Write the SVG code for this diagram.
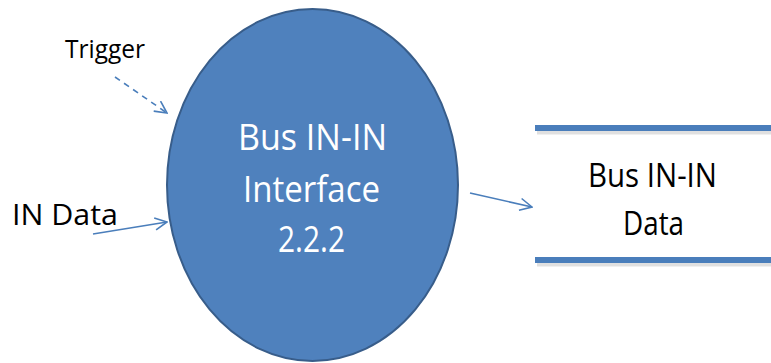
<svg xmlns="http://www.w3.org/2000/svg" width="771" height="363" viewBox="0 0 771 363">
<style>
text{font-family:"Open Sans","Noto Sans","Liberation Sans",sans-serif;}
.dark{fill:#000;}
.light{fill:#fff;}
.conn{stroke:#4A7EBB;stroke-width:1.6;fill:none;}
.bar{stroke:#4A7EBB;stroke-width:6;}
.shadow{stroke:#000;stroke-opacity:0.12;stroke-width:5;}
</style>
<defs>
<marker id="arr" viewBox="0 0 14 14" refX="13" refY="7" markerWidth="14" markerHeight="14" markerUnits="userSpaceOnUse" orient="auto">
<path d="M1,1 L13,7 L1,13" fill="none" stroke="#4A7EBB" stroke-width="1.6"/>
</marker>
</defs>
<g id="connectors">
<line class="conn" x1="115" y1="77" x2="167" y2="113" stroke-dasharray="6,5" marker-end="url(#arr)"/>
<line class="conn" x1="93" y1="234" x2="167" y2="222" marker-end="url(#arr)"/>
<line class="conn" x1="470" y1="193" x2="532" y2="207" marker-end="url(#arr)"/>
</g>
<g id="trigger">
<text class="dark" x="65" y="58" font-size="25" textLength="80" lengthAdjust="spacingAndGlyphs">Trigger</text>
</g>
<g id="in-data">
<text class="dark" x="12" y="225" font-size="30" textLength="106" lengthAdjust="spacingAndGlyphs">IN Data</text>
</g>
<g id="process">
<ellipse cx="312.5" cy="185" rx="145.5" ry="176" fill="#4F81BD" stroke="#385D8A" stroke-width="2"/>
<text class="light" x="238" y="150" font-size="36" textLength="149" lengthAdjust="spacingAndGlyphs">Bus IN-IN</text>
<text class="light" x="243" y="202" font-size="36" textLength="137" lengthAdjust="spacingAndGlyphs">Interface</text>
<text class="light" x="278" y="252" font-size="36" textLength="67" lengthAdjust="spacingAndGlyphs">2.2.2</text>
</g>
<g id="datastore">
<line class="shadow" x1="537" y1="132" x2="771" y2="132"/>
<line class="shadow" x1="537" y1="264" x2="771" y2="264"/>
<line class="bar" x1="535" y1="128" x2="771" y2="128"/>
<line class="bar" x1="535" y1="260" x2="771" y2="260"/>
<text class="dark" x="588" y="187" font-size="33" textLength="129" lengthAdjust="spacingAndGlyphs">Bus IN-IN</text>
<text class="dark" x="623" y="235" font-size="33" textLength="61" lengthAdjust="spacingAndGlyphs">Data</text>
</g>
</svg>
